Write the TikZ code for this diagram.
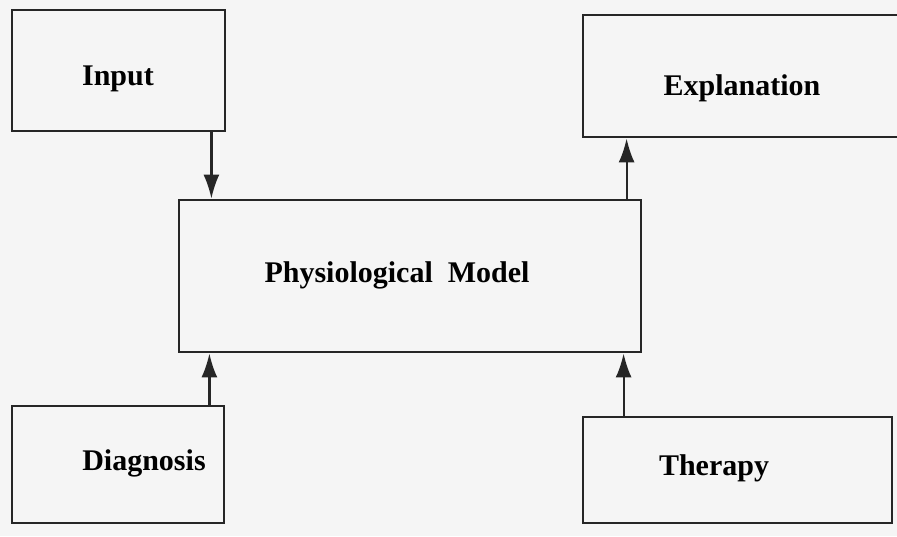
\documentclass[tikz,border=0pt]{standalone}
\usepackage{fontspec}
\setmainfont{Liberation Serif}
\usetikzlibrary{arrows.meta}

\begin{document}
\begin{tikzpicture}[x=0.5pt,y=-0.5pt,
    box/.style={draw=black!85,line width=1.4pt,rectangle,inner sep=0pt},
    lbl/.style={font=\fontsize{15}{18}\selectfont\bfseries,inner sep=0pt},
    arr/.style={draw=black!85,line width=1.1pt,-{Latex[length=12pt,width=8pt]}}]
    \useasboundingbox (0,0) rectangle (897,536);
    \fill[black!4] (0,0) rectangle (897,536);

    \node[box,minimum width=106.5pt,minimum height=60.5pt] (inp) at (118.5,70.5) {};
    \node[box,minimum width=166pt,minimum height=61pt] (expl) at (749,76) {};
    \node[box,minimum width=231pt,minimum height=76pt] (model) at (410,276) {};
    \node[box,minimum width=106pt,minimum height=58.5pt] (diag) at (118,464.5) {};
    \node[box,minimum width=154.5pt,minimum height=53pt] (ther) at (737.5,470) {};

    \node[lbl] (inpT) at (118,79) {Input};
    \node[lbl] (explT) at (742,88) {Explanation};
    \node[lbl] (modelT) at (397,275) {Physiological\ \ Model};
    \node[lbl] (diagT) at (144,463) {Diagnosis};
    \node[lbl] (therT) at (714,468) {Therapy};

    \draw[arr] ([xshift=-7.5pt]inp.south east) -- ([xshift=-7.5pt]inp.south east |- model.north);
    \draw[arr] ([xshift=22.5pt]expl.south west |- model.north) -- ([xshift=22.5pt]expl.south west);
    \draw[arr] ([xshift=-8pt]diag.north east) -- ([xshift=-8pt]diag.north east |- model.south);
    \draw[arr] ([xshift=21pt]ther.north west) -- ([xshift=21pt]ther.north west |- model.south);
  \end{tikzpicture}
\end{document}
